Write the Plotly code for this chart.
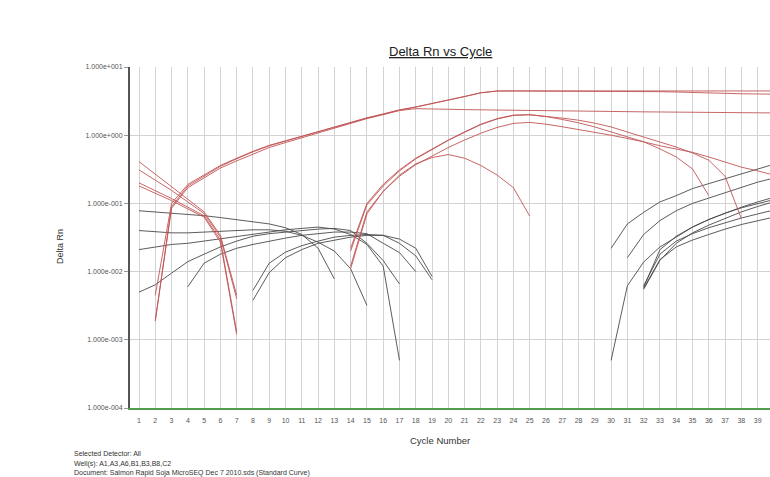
import plotly.graph_objects as go

# Amplification plot: Delta Rn per cycle for each well/detector trace.
# Each trace is (first cycle, values from that cycle on).

# Red detector: early risers that plateau
red_a1 = (2, [0.0019, 0.09, 0.18, 0.25, 0.35, 0.45, 0.57, 0.70, 0.82, 0.95, 1.12, 1.32, 1.55,
              1.80, 2.05, 2.35, 2.60, 2.90, 3.25, 3.70, 4.20, 4.45, 4.46, 4.46, 4.46, 4.45,
              4.45, 4.45, 4.45, 4.45, 4.45, 4.45, 4.45, 4.45, 4.45, 4.45, 4.45, 4.45, 4.45])
red_a2 = (2, [0.0045, 0.10, 0.19, 0.26, 0.36, 0.46, 0.58, 0.71, 0.83, 0.96, 1.12, 1.30, 1.52,
              1.78, 2.03, 2.33, 2.58, 2.88, 3.22, 3.68, 4.18, 4.44, 4.45, 4.45, 4.45, 4.45,
              4.45, 4.45, 4.45, 4.44, 4.40, 4.35, 4.30, 4.22, 4.15, 4.10, 4.05, 4.02, 4.00])
red_a3 = (2, [0.0019, 0.085, 0.17, 0.24, 0.33, 0.42, 0.53, 0.66, 0.78, 0.92, 1.06, 1.25, 1.50,
              1.75, 2.00, 2.30, 2.45, 2.45, 2.40, 2.37, 2.35, 2.33, 2.31, 2.28, 2.27, 2.26,
              2.25, 2.23, 2.22, 2.21, 2.20, 2.19, 2.18, 2.17, 2.16, 2.15, 2.14, 2.13, 2.12])

# Red detector: high-start traces that collapse by cycle 7
red_b1 = (1, [0.41, 0.27, 0.18, 0.115, 0.075, 0.034, 0.0045])
red_b2 = (1, [0.31, 0.22, 0.155, 0.105, 0.071, 0.032, 0.0040])
red_b3 = (1, [0.20, 0.155, 0.118, 0.088, 0.066, 0.029, 0.0013])
red_b4 = (1, [0.18, 0.14, 0.11, 0.083, 0.063, 0.027, 0.0012])

# Red detector: late risers peaking around cycles 20-25
red_c1 = (14, [0.022, 0.10, 0.19, 0.31, 0.46, 0.63, 0.85, 1.12, 1.45, 1.75, 1.97, 2.00, 1.88,
               1.70, 1.52, 1.32, 1.12, 0.95, 0.80, 0.63, 0.48, 0.32, 0.13])
red_c2 = (14, [0.020, 0.095, 0.18, 0.30, 0.45, 0.62, 0.84, 1.10, 1.43, 1.73, 1.95, 1.99, 1.90,
               1.78, 1.66, 1.50, 1.32, 1.12, 0.94, 0.80, 0.67, 0.55, 0.43, 0.25, 0.06])
red_c3 = (14, [0.012, 0.075, 0.15, 0.25, 0.37, 0.50, 0.66, 0.85, 1.07, 1.30, 1.49, 1.54, 1.45,
               1.33, 1.22, 1.10, 1.00, 0.90, 0.80, 0.70, 0.62, 0.56, 0.48, 0.40, 0.34, 0.30, 0.26])
red_c4 = (14, [0.011, 0.07, 0.15, 0.26, 0.38, 0.47, 0.52, 0.46, 0.36, 0.26, 0.17, 0.065])

# Black detector: early traces (cycles 1-19)
blk_d1 = (1, [0.078, 0.075, 0.072, 0.069, 0.066, 0.062, 0.058, 0.054, 0.050, 0.044, 0.035,
              0.022, 0.0078])
blk_d2 = (1, [0.040, 0.038, 0.037, 0.037, 0.038, 0.039, 0.040, 0.041, 0.041, 0.039, 0.034,
              0.027, 0.020, 0.011, 0.0032])
blk_d3 = (1, [0.021, 0.023, 0.025, 0.026, 0.028, 0.030, 0.033, 0.035, 0.038, 0.041, 0.043,
              0.045, 0.042, 0.035, 0.025, 0.012, 0.0005])
blk_d4 = (1, [0.0050, 0.0064, 0.0095, 0.014, 0.018, 0.023, 0.028, 0.033, 0.036, 0.038, 0.040,
              0.042, 0.043, 0.040, 0.026, 0.0145, 0.0066])
blk_d5 = (4, [0.0060, 0.0133, 0.018, 0.022, 0.025, 0.028, 0.031, 0.034, 0.036, 0.038, 0.038,
              0.036, 0.026, 0.019, 0.010])
blk_d6 = (8, [0.0053, 0.0133, 0.0193, 0.024, 0.028, 0.032, 0.034, 0.035, 0.034, 0.026, 0.017,
              0.0076])
blk_d7 = (8, [0.0038, 0.0097, 0.016, 0.021, 0.026, 0.029, 0.032, 0.034, 0.034, 0.030, 0.022,
              0.0085])

# Black detector: late risers (cycles 30-40)
blk_e1 = (30, [0.022, 0.050, 0.074, 0.105, 0.13, 0.165, 0.195, 0.23, 0.275, 0.32, 0.375])
blk_e2 = (31, [0.016, 0.035, 0.056, 0.078, 0.10, 0.12, 0.145, 0.175, 0.205, 0.235])
blk_e3 = (30, [0.0005, 0.0062, 0.0138, 0.023, 0.032, 0.045, 0.058, 0.072, 0.088, 0.105, 0.123])
blk_e4 = (32, [0.0059, 0.021, 0.033, 0.045, 0.058, 0.072, 0.086, 0.10, 0.114])
blk_e5 = (32, [0.0055, 0.0146, 0.026, 0.037, 0.048, 0.060, 0.075, 0.090, 0.106])
blk_e6 = (32, [0.0062, 0.018, 0.028, 0.036, 0.044, 0.052, 0.061, 0.070, 0.080])
blk_e7 = (32, [0.0057, 0.015, 0.023, 0.029, 0.035, 0.042, 0.049, 0.056, 0.063])

red_traces = [red_a1, red_a2, red_a3, red_b1, red_b2, red_b3, red_b4,
              red_c1, red_c2, red_c3, red_c4]
black_traces = [blk_d1, blk_d2, blk_d3, blk_d4, blk_d5, blk_d6, blk_d7,
                blk_e1, blk_e2, blk_e3, blk_e4, blk_e5, blk_e6, blk_e7]

cycle_ticks = list(range(1, 40))
y_tick_vals = [1e-4, 1e-3, 1e-2, 1e-1, 1e0, 1e1]
y_tick_text = ["1.000e-004", "1.000e-003", "1.000e-002", "1.000e-001", "1.000e+000", "1.000e+001"]

FONT = "Liberation Sans, Arial, sans-serif"
RED = "#c25555"
BLACK = "#4a4a4a"

fig = go.Figure()


def add_trace(series, color):
    start, vals = series
    xs = list(range(start, start + len(vals)))
    fig.add_trace(go.Scatter(x=xs, y=vals, mode="lines",
                             line=dict(color=color, width=0.9),
                             hoverinfo="skip", showlegend=False))


for s in black_traces:
    add_trace(s, BLACK)
for s in red_traces:
    add_trace(s, RED)

fig.update_layout(
    width=770, height=477,
    margin=dict(l=130, r=0, t=67, b=69),
    paper_bgcolor="white", plot_bgcolor="white",
    font=dict(family=FONT, color="#333333"),
    xaxis=dict(
        range=[0.447, 39.76],
        tickmode="array", tickvals=cycle_ticks, ticktext=[str(c) for c in cycle_ticks],
        tickfont=dict(size=7, color="#555555"),
        showgrid=True, gridcolor="#d2d2d2", gridwidth=1,
        zeroline=False, showline=True, linecolor="#4f9f4f", linewidth=2,
        ticks="", ticklabelstandoff=5,
    ),
    yaxis=dict(
        type="log", range=[-4, 1],
        tickmode="array", tickvals=y_tick_vals, ticktext=y_tick_text,
        tickfont=dict(size=7, color="#555555"),
        showgrid=True, gridcolor="#d2d2d2", gridwidth=1,
        zeroline=False, showline=True, linecolor="#555555", linewidth=2,
        ticks="outside", ticklen=4, tickcolor="#999999", tickwidth=1,
    ),
)


def px_x(px):
    return (px - 130) / 640.0


def px_y(py):
    return (408 - py) / 341.0


annotations = [
    dict(text="<u>Delta Rn vs Cycle</u>", x=px_x(440), y=px_y(51),
         font=dict(size=13, color="#222222")),
    dict(text="Delta Rn", x=px_x(60), y=px_y(247), textangle=-90,
         font=dict(size=9, color="#333333")),
    dict(text="Cycle Number", x=px_x(440), y=px_y(441),
         font=dict(size=9.5, color="#333333")),
    dict(text="Selected Detector: All", x=px_x(72), y=px_y(454), xanchor="left",
         font=dict(size=7, color="#333333")),
    dict(text="Well(s): A1,A3,A6,B1,B3,B8,C2", x=px_x(72), y=px_y(464), xanchor="left",
         font=dict(size=7, color="#333333")),
    dict(text="Document: Salmon Rapid Soja MicroSEQ Dec 7 2010.sds (Standard Curve)",
         x=px_x(72), y=px_y(472.5), xanchor="left",
         font=dict(size=7, color="#333333")),
]
for a in annotations:
    a.setdefault("xanchor", "center")
    fig.add_annotation(xref="paper", yref="paper", showarrow=False, yanchor="middle", **a)

fig.write_html("out.html")
